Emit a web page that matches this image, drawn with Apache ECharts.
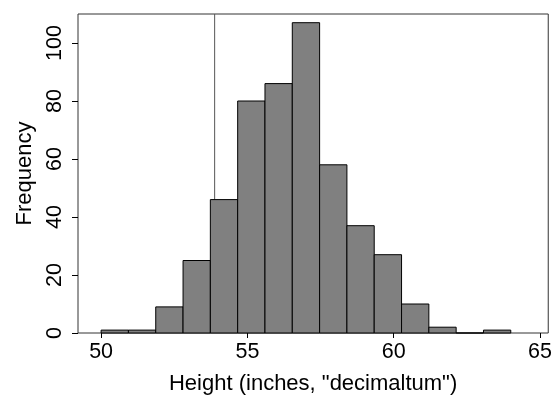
<!DOCTYPE html>
<html>
<head>
<meta charset="utf-8">
<script src="https://cdn.jsdelivr.net/npm/echarts@6/dist/echarts.min.js"></script>
<style>
html,body{margin:0;padding:0;background:#fff;}
#chart{width:555px;height:400px;}
</style>
</head>
<body>
<div id="chart"></div>
<script>
// Histogram bin edges (inches) and counts
var binEdges = [50, 50.933, 51.867, 52.8, 53.733, 54.667, 55.6, 56.533, 57.467, 58.4, 59.333, 60.267, 61.2, 62.133, 63.067, 64];
var counts = [1, 1, 9, 25, 46, 80, 86, 107, 58, 37, 27, 10, 2, 0, 1];
var xTicks = [50, 55, 60, 65];
var yTicks = [0, 20, 40, 60, 80, 100];
var refLineX = 53.88;
var xTitle = 'Height (inches, "decimaltum")';
var yTitle = 'Frequency';

var barData = counts.map(function (c, i) { return [binEdges[i], binEdges[i + 1], c]; });

var FONT = '"Liberation Sans", Arial, Helvetica, sans-serif';
var chart = echarts.init(document.getElementById('chart'), null, {renderer: 'canvas'});
chart.setOption({
  animation: false,
  backgroundColor: '#ffffff',
  grid: {left: 78, right: 4, top: 14, bottom: 65, show: true, borderColor: '#333', borderWidth: 1, backgroundColor: 'transparent'},
  xAxis: {
    type: 'value', min: 49.21, max: 65.28,
    name: xTitle, nameLocation: 'middle', nameGap: 40,
    nameTextStyle: {fontFamily: FONT, fontSize: 22, color: '#000'},
    axisLine: {show: false},
    splitLine: {show: false},
    axisTick: {show: true, length: 5, inside: false, customValues: xTicks, lineStyle: {color: '#000'}},
    axisLabel: {customValues: xTicks, fontFamily: FONT, fontSize: 21.5, color: '#000', margin: 8}
  },
  yAxis: {
    type: 'value', min: 0, max: 110,
    name: yTitle, nameLocation: 'middle', nameGap: 42, nameRotate: 90,
    nameTextStyle: {fontFamily: FONT, fontSize: 22, color: '#000'},
    axisLine: {show: false},
    splitLine: {show: false},
    axisTick: {show: true, length: 6, customValues: yTicks, lineStyle: {color: '#000'}},
    axisLabel: {customValues: yTicks, rotate: 90, fontFamily: FONT, fontSize: 21.5, color: '#000', margin: 12}
  },
  series: [
    {
      type: 'line', z: 1, symbol: 'none', silent: true,
      data: [[refLineX, 0], [refLineX, 110]],
      lineStyle: {color: '#555', width: 1}
    },
    {
      type: 'custom', z: 3,
      data: barData,
      encode: {x: [0, 1], y: 2},
      renderItem: function (params, api) {
        var p0 = api.coord([api.value(0), api.value(2)]);
        var p1 = api.coord([api.value(1), 0]);
        return {
          type: 'rect',
          shape: {x: p0[0], y: p0[1], width: p1[0] - p0[0], height: p1[1] - p0[1]},
          style: {fill: '#808080', stroke: '#000', lineWidth: 1}
        };
      }
    }
  ]
});
</script>
</body>
</html>
